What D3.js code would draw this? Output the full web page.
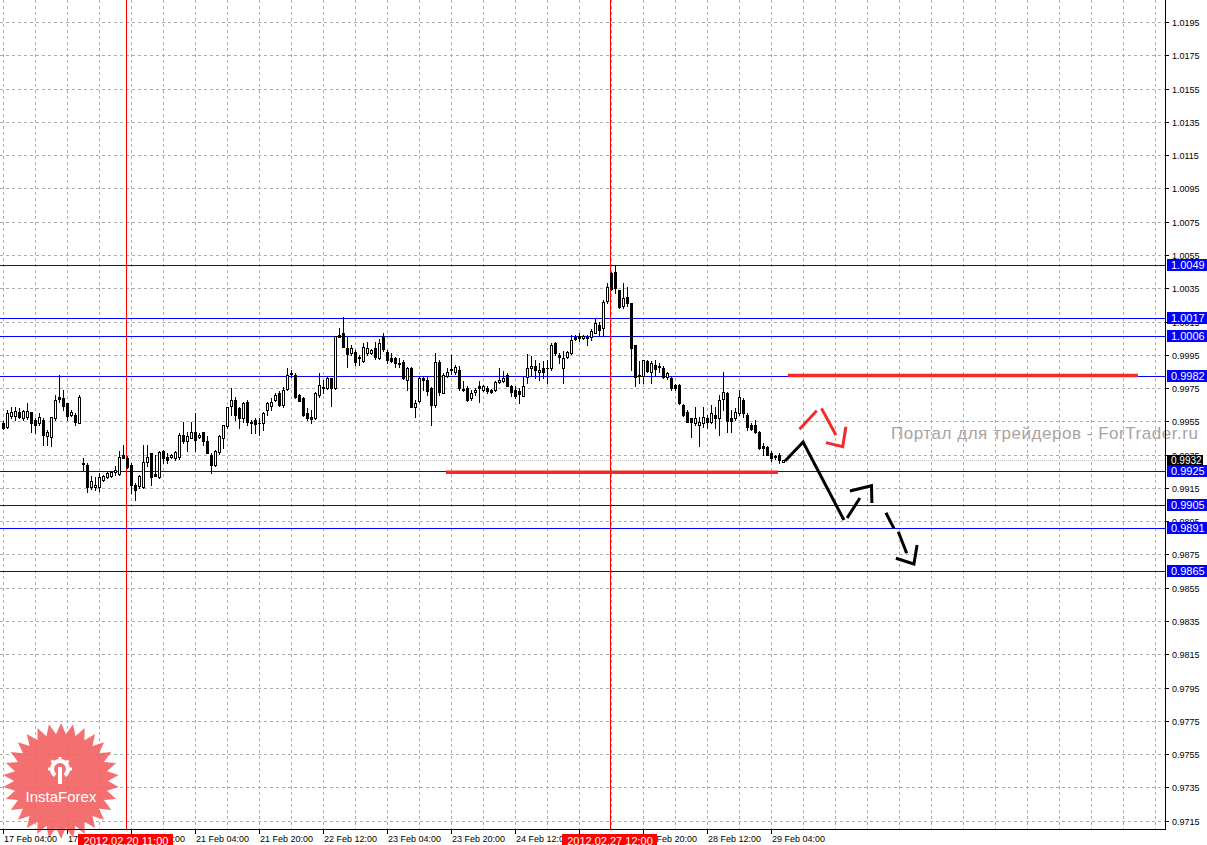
<!DOCTYPE html>
<html>
<head>
<meta charset="utf-8">
<script src="https://cdn.jsdelivr.net/npm/d3@7"></script>
<style>
body{margin:0;background:#fff;}
svg{display:block;font-family:"Liberation Sans",Arial,sans-serif;}
</style>
</head>
<body>
<div id="chart"></div>
<script>
// H1 bars, 17 Feb 04:00 .. 29 Feb 03:00 (weekend skipped)
const open = [
0.99543,0.99515,0.99583,0.99583,0.99607,0.99571,0.99575,0.99607,0.99559,0.99543,
0.99559,0.99463,0.99455,0.99569,0.99695,0.99689,0.99663,0.99589,0.99589,0.99543,
0.99299,0.99289,0.99155,0.99155,0.99155,0.99199,0.99215,0.99223,0.99247,0.99235,
0.99349,0.99329,0.99289,0.99169,0.99159,0.99155,0.99303,0.99359,0.99235,0.99215,
0.99369,0.99335,0.99335,0.99329,0.99335,0.99469,0.99429,0.99449,0.99483,0.99455,
0.99483,0.99429,0.99349,0.99289,0.99363,0.99449,0.99523,0.99643,0.99679,0.99629,
0.99569,0.99669,0.99549,0.99559,0.99543,0.99543,0.99619,0.99643,0.99679,0.99723,
0.99649,0.99743,0.99839,0.99829,0.99709,0.99689,0.99603,0.99579,0.99569,0.99709,
0.99755,0.99749,0.99809,0.99749,1.00069,1.00079,0.99989,0.99959,0.99969,0.99939,
0.99915,0.99963,0.99959,0.99989,0.99929,1.00063,0.99969,0.99929,0.99929,0.99903,
0.99909,0.99799,0.99869,0.99639,0.99675,0.99809,0.99799,0.99749,0.99649,0.99909,
0.99720,0.99820,0.99864,0.99844,0.99860,0.99744,0.99750,0.99690,0.99724,0.99760,
0.99736,0.99750,0.99740,0.99736,0.99784,0.99790,0.99830,0.99760,0.99740,0.99730,
0.99704,0.99816,0.99870,0.99880,0.99844,0.99870,0.99870,0.99870,1.00020,0.99950,
0.99870,0.99936,0.99960,1.00056,1.00064,1.00050,1.00050,1.00056,1.00080,1.00130,
1.00110,1.00276,1.00444,1.00450,1.00340,1.00244,1.00300,1.00260,1.00010,0.99830,
0.99824,0.99910,0.99844,0.99890,0.99880,0.99869,0.99815,0.99809,0.99769,0.99769,
0.99649,0.99609,0.99569,0.99539,0.99529,0.99543,0.99569,0.99549,0.99589,0.99569,
0.99683,0.99723,0.99569,0.99569,0.99599,0.99679,0.99589,0.99529,0.99529,0.99489,
0.99399,0.99395,0.99359,0.99339,0.99349,0.99307];
const high = [
0.99555,0.99619,0.99635,0.99639,0.99630,0.99620,0.99663,0.99607,0.99570,0.99603,
0.99570,0.99500,0.99579,0.99709,0.99829,0.99739,0.99663,0.99620,0.99600,0.99710,
0.99329,0.99300,0.99219,0.99215,0.99239,0.99230,0.99245,0.99250,0.99279,0.99369,
0.99409,0.99340,0.99300,0.99179,0.99230,0.99409,0.99409,0.99360,0.99349,0.99370,
0.99379,0.99359,0.99355,0.99369,0.99479,0.99549,0.99489,0.99549,0.99599,0.99480,
0.99489,0.99459,0.99359,0.99380,0.99470,0.99529,0.99635,0.99749,0.99699,0.99639,
0.99669,0.99679,0.99559,0.99569,0.99569,0.99609,0.99669,0.99689,0.99720,0.99730,
0.99755,0.99869,0.99859,0.99840,0.99715,0.99695,0.99629,0.99619,0.99725,0.99839,
0.99799,0.99815,0.99809,1.00065,1.00109,1.00179,1.00059,1.00009,0.99979,0.99949,
1.00023,1.00029,0.99985,1.00029,1.00043,1.00083,0.99979,0.99959,0.99939,0.99929,
0.99919,0.99879,0.99879,0.99679,0.99819,0.99819,0.99819,0.99759,0.99959,0.99920,
0.99840,0.99870,0.99950,0.99890,0.99880,0.99790,0.99760,0.99740,0.99750,0.99790,
0.99770,0.99760,0.99745,0.99790,0.99870,0.99850,0.99840,0.99770,0.99760,0.99750,
0.99816,0.99956,0.99940,0.99920,0.99900,0.99910,0.99920,1.00020,1.00024,0.99960,
0.99970,0.99970,1.00070,1.00070,1.00080,1.00070,1.00070,1.00104,1.00170,1.00150,
1.00280,1.00380,1.00450,1.00490,1.00340,1.00384,1.00360,1.00260,1.00010,0.99910,
0.99920,0.99920,0.99910,0.99920,0.99900,0.99880,0.99849,0.99815,0.99775,0.99775,
0.99655,0.99619,0.99569,0.99639,0.99579,0.99639,0.99589,0.99649,0.99639,0.99709,
0.99849,0.99729,0.99619,0.99629,0.99739,0.99689,0.99599,0.99539,0.99559,0.99495,
0.99419,0.99399,0.99369,0.99349,0.99359,0.99319];
const low = [
0.99505,0.99509,0.99569,0.99559,0.99570,0.99560,0.99565,0.99483,0.99479,0.99529,
0.99409,0.99409,0.99403,0.99559,0.99669,0.99619,0.99559,0.99580,0.99529,0.99540,
0.99259,0.99123,0.99143,0.99139,0.99129,0.99190,0.99210,0.99215,0.99229,0.99229,
0.99329,0.99270,0.99119,0.99079,0.99150,0.99149,0.99279,0.99169,0.99219,0.99210,
0.99299,0.99299,0.99330,0.99319,0.99323,0.99419,0.99369,0.99449,0.99369,0.99450,
0.99409,0.99359,0.99239,0.99280,0.99355,0.99389,0.99509,0.99589,0.99559,0.99509,
0.99549,0.99529,0.99479,0.99479,0.99469,0.99499,0.99589,0.99619,0.99670,0.99640,
0.99639,0.99739,0.99815,0.99690,0.99670,0.99580,0.99559,0.99539,0.99565,0.99699,
0.99719,0.99745,0.99643,0.99745,1.00055,0.99995,0.99879,0.99949,0.99889,0.99889,
0.99909,0.99949,0.99955,0.99923,0.99923,0.99975,0.99899,0.99909,0.99879,0.99879,
0.99805,0.99739,0.99635,0.99579,0.99669,0.99739,0.99709,0.99529,0.99639,0.99710,
0.99720,0.99816,0.99836,0.99836,0.99740,0.99730,0.99670,0.99680,0.99710,0.99664,
0.99730,0.99720,0.99720,0.99730,0.99780,0.99784,0.99760,0.99700,0.99690,0.99660,
0.99700,0.99780,0.99820,0.99810,0.99800,0.99810,0.99780,0.99860,0.99950,0.99900,
0.99780,0.99930,0.99956,1.00040,1.00030,1.00045,1.00010,1.00040,1.00080,1.00064,
1.00064,1.00264,1.00340,1.00320,1.00230,1.00230,1.00244,0.99860,0.99764,0.99780,
0.99780,0.99844,0.99780,0.99820,0.99844,0.99810,0.99803,0.99740,0.99740,0.99655,
0.99585,0.99545,0.99455,0.99529,0.99403,0.99519,0.99509,0.99539,0.99509,0.99469,
0.99619,0.99489,0.99489,0.99559,0.99589,0.99579,0.99499,0.99499,0.99479,0.99385,
0.99349,0.99349,0.99309,0.99323,0.99299,0.99305];
const close = [
0.99509,0.99603,0.99607,0.99611,0.99579,0.99611,0.99615,0.99539,0.99529,0.99575,
0.99467,0.99483,0.99575,0.99679,0.99683,0.99643,0.99585,0.99609,0.99549,0.99699,
0.99295,0.99155,0.99189,0.99169,0.99215,0.99223,0.99239,0.99243,0.99255,0.99335,
0.99331,0.99275,0.99169,0.99135,0.99219,0.99303,0.99335,0.99215,0.99223,0.99363,
0.99329,0.99319,0.99349,0.99363,0.99469,0.99429,0.99459,0.99483,0.99439,0.99469,
0.99429,0.99359,0.99289,0.99369,0.99459,0.99529,0.99635,0.99679,0.99589,0.99569,
0.99659,0.99549,0.99543,0.99535,0.99539,0.99603,0.99659,0.99669,0.99709,0.99649,
0.99739,0.99829,0.99835,0.99695,0.99675,0.99589,0.99569,0.99563,0.99719,0.99769,
0.99749,0.99809,0.99749,1.00063,1.00059,0.99999,0.99955,0.99989,0.99909,0.99929,
0.99995,0.99989,0.99979,0.99935,1.00019,0.99983,0.99919,0.99915,0.99903,0.99895,
0.99809,0.99869,0.99639,0.99663,0.99809,0.99799,0.99735,0.99649,0.99909,0.99725,
0.99830,0.99844,0.99856,0.99876,0.99750,0.99740,0.99676,0.99720,0.99740,0.99750,
0.99760,0.99730,0.99724,0.99784,0.99800,0.99810,0.99760,0.99724,0.99700,0.99716,
0.99760,0.99870,0.99880,0.99856,0.99860,0.99844,0.99868,1.00010,0.99960,0.99936,
0.99930,0.99964,1.00040,1.00044,1.00050,1.00064,1.00056,1.00090,1.00140,1.00100,
1.00270,1.00360,1.00344,1.00350,1.00236,1.00290,1.00264,0.99990,0.99816,0.99824,
0.99920,0.99850,0.99900,0.99864,0.99876,0.99819,0.99839,0.99749,0.99749,0.99659,
0.99589,0.99549,0.99549,0.99569,0.99549,0.99579,0.99549,0.99599,0.99569,0.99679,
0.99729,0.99555,0.99555,0.99609,0.99695,0.99599,0.99515,0.99503,0.99489,0.99389,
0.99389,0.99349,0.99329,0.99337,0.99315,0.99319];

const priceTicks = [0.9715,0.9735,0.9755,0.9775,0.9795,0.9815,0.9835,0.9855,0.9875,0.9895,
  0.9915,0.9935,0.9955,0.9975,0.9995,1.0015,1.0035,1.0055,1.0075,1.0095,1.0115,1.0135,
  1.0155,1.0175,1.0195];
// one label every 16 bars
const timeLabels = ["17 Feb 04:00","17 Feb 20:00","20 Feb 12:00","21 Feb 04:00","21 Feb 20:00",
  "22 Feb 12:00","23 Feb 04:00","23 Feb 20:00","24 Feb 12:00","27 Feb 04:00","27 Feb 20:00",
  "28 Feb 12:00","29 Feb 04:00"];
const levels = [1.0049, 1.0017, 1.0006, 0.9982, 0.9925, 0.9905, 0.9891, 0.9865];
const bidPrice = 0.9932;
// vertical lines : bar index and label
const vLines = [{i: 31, label: "2012.02.20 11:00"}, {i: 152, label: "2012.02.27 12:00"}];
// drawn objects, in (bar index, price)
const redLevels = [[[110.8, 0.99244], [193.8, 0.99244]], [[196.3, 0.99826], [283.8, 0.99826]]];
const blackPath = [[195.6, 0.99312], [200.1, 0.99426], [210.3, 0.98957]];
const blackShaft = [[211.1, 0.98969], [214.3, 0.99089]];
const blackHead = [[211.8, 0.99131], [217.2, 0.99163], [217.3, 0.99059]];
const dashSegs = [[[220.8, 0.99001], [222.8, 0.98907]], [[223.9, 0.98887], [226.0, 0.98757]]];
const dashHead = [[223.3, 0.98727], [227.8, 0.98693], [228.6, 0.98807]];
const redSegs = [[[199.2, 0.99502], [203.5, 0.99614]], [[204.7, 0.99628], [208.3, 0.99468]]];
const redHead = [[205.8, 0.99422], [210.0, 0.99398], [210.8, 0.99518]];

const W = 1207, H = 845, plotRight = 1165, plotBottom = 829;
const gridColor = '#a6b4a6';

const x = d3.scaleLinear().domain([0, 1]).range([2.7, 6.7]);
const y = d3.scaleLinear().domain([0.9715, 1.0195]).range([820.7, 22]);
const px = v => Math.round(v) + 0.5;
const line = d3.line().x(d => x(d[0])).y(d => y(d[1]));

const svg = d3.select('#chart').append('svg').attr('width', W).attr('height', H);

svg.append('defs').append('clipPath').attr('id', 'plotclip')
  .append('rect').attr('x', 0).attr('y', 0).attr('width', plotRight).attr('height', plotBottom);

//grid
const grid = svg.append('g').attr('stroke', gridColor).attr('stroke-dasharray', '3,3')
  .attr('shape-rendering', 'crispEdges');
priceTicks.forEach(p => {
  grid.append('line').attr('x1', 0).attr('x2', plotRight).attr('y1', px(y(p))).attr('y2', px(y(p)));
});
d3.range(0, 300, 8).forEach(i => {
  const xx = px(x(i));
  if (xx < plotRight) grid.append('line').attr('x1', xx).attr('x2', xx).attr('y1', 0).attr('y2', plotBottom);
});

const plot = svg.append('g').attr('clip-path', 'url(#plotclip)');

//bid line
plot.append('line').attr('x1', 0).attr('x2', plotRight).attr('y1', px(y(bidPrice))).attr('y2', px(y(bidPrice)))
  .attr('stroke', '#c4bcc4').attr('stroke-dasharray', '1,1').attr('shape-rendering', 'crispEdges');

//levels
levels.forEach(l => {
  plot.append('line').attr('x1', 0).attr('x2', plotRight).attr('y1', px(y(l))).attr('y2', px(y(l)))
    .attr('stroke', '#0000ff').attr('shape-rendering', 'crispEdges');
});

//vertical red lines
vLines.forEach(v => {
  const xx = Math.floor(x(v.i)) + 0.5;
  plot.append('line').attr('x1', xx).attr('x2', xx).attr('y1', 0).attr('y2', plotBottom)
    .attr('stroke', '#ff0000').attr('shape-rendering', 'crispEdges');
});

//candles
const cg = plot.append('g').attr('shape-rendering', 'crispEdges');
open.forEach((o, i) => {
  const c = close[i], cx = Math.round(x(i));
  cg.append('line').attr('x1', cx + 0.5).attr('x2', cx + 0.5)
    .attr('y1', Math.round(y(high[i]))).attr('y2', Math.round(y(low[i])) + 1).attr('stroke', '#000');
  const top = Math.round(y(Math.max(o, c))), bot = Math.round(y(Math.min(o, c)));
  if (bot - top < 1) {
    cg.append('line').attr('x1', cx - 1).attr('x2', cx + 2).attr('y1', top + 0.5).attr('y2', top + 0.5)
      .attr('stroke', '#000');
  } else {
    cg.append('rect').attr('x', cx - 0.5).attr('y', top + 0.5).attr('width', 2).attr('height', bot - top)
      .attr('fill', c >= o ? '#fff' : '#000').attr('stroke', '#000');
  }
});

//drawn objects
redLevels.forEach(r => {
  plot.append('path').attr('d', line(r)).attr('stroke', '#f22a2a').attr('stroke-width', 3.5).attr('fill', 'none');
});
const draw = (pts, col) => plot.append('path').attr('d', line(pts)).attr('fill', 'none')
  .attr('stroke', col).attr('stroke-width', 3).attr('stroke-linejoin', 'miter');
draw(blackPath, '#000');
draw(blackShaft, '#000');
draw(blackHead, '#000');
dashSegs.forEach(s => draw(s, '#000'));
draw(dashHead, '#000');
redSegs.forEach(s => draw(s, '#f22a2a'));
draw(redHead, '#f22a2a');

//watermark
svg.append('text').attr('x', 891).attr('y', 439).attr('font-size', 17).attr('fill', '#aaa2a2')
  .attr('textLength', 307).attr('lengthAdjust', 'spacing')
  .text('Портал для трейдеров - ForTrader.ru');

//instaforex logo
const logo = svg.append('g').attr('transform', 'translate(61,781)');
const star = d3.range(60).map(j => {
  const a = j * Math.PI / 30, r = j % 2 ? 47 : 58;
  return [r * Math.sin(a), -r * Math.cos(a)];
});
logo.append('path').attr('d', 'M' + star.join('L') + 'Z').attr('fill', '#f25c5c').attr('opacity', 0.88);
logo.append('path').attr('d', d3.arc().innerRadius(6).outerRadius(10).startAngle(-2.5).endAngle(2.5)())
  .attr('transform', 'translate(-1,-12)').attr('fill', '#fff');
d3.range(-2, 3).forEach(j => {
  logo.append('rect').attr('x', -2.5).attr('y', -24).attr('width', 3).attr('height', 4).attr('fill', '#fff')
    .attr('transform', 'rotate(' + (j * 45) + ',-1,-12)');
});
logo.append('rect').attr('x', -3).attr('y', -14).attr('width', 4).attr('height', 17).attr('fill', '#fff');
logo.append('text').attr('x', 0).attr('y', 21).attr('text-anchor', 'middle').attr('font-size', 15)
  .attr('fill', '#fff').text('InstaForex');

//axes
svg.append('line').attr('x1', plotRight + 0.5).attr('x2', plotRight + 0.5).attr('y1', 0).attr('y2', plotBottom + 1)
  .attr('stroke', '#000').attr('shape-rendering', 'crispEdges');
svg.append('line').attr('x1', 0).attr('x2', plotRight + 1).attr('y1', plotBottom + 0.5).attr('y2', plotBottom + 0.5)
  .attr('stroke', '#000').attr('shape-rendering', 'crispEdges');

priceTicks.forEach(p => {
  const yy = px(y(p));
  svg.append('line').attr('x1', plotRight).attr('x2', plotRight + 4).attr('y1', yy).attr('y2', yy)
    .attr('stroke', '#000').attr('shape-rendering', 'crispEdges');
  svg.append('text').attr('x', 1172).attr('y', yy + 3).attr('font-size', 9).attr('fill', '#000').text(p.toFixed(4));
});
timeLabels.forEach((t, j) => {
  const xx = px(x(j * 16));
  svg.append('line').attr('x1', xx).attr('x2', xx).attr('y1', plotBottom).attr('y2', plotBottom + 5)
    .attr('stroke', '#000').attr('shape-rendering', 'crispEdges');
  svg.append('text').attr('x', xx + 0.5).attr('y', 842).attr('font-size', 9).attr('fill', '#000').text(t);
});

//price boxes
levels.forEach(l => {
  const yy = Math.round(y(l));
  svg.append('rect').attr('x', 1167).attr('y', yy - 6).attr('width', 40).attr('height', 12).attr('fill', '#0000ff');
  svg.append('text').attr('x', 1171).attr('y', yy + 4).attr('font-size', 11).attr('fill', '#fff').text(l.toFixed(4));
});
const by = Math.round(y(bidPrice));
svg.append('rect').attr('x', 1167).attr('y', by - 5).attr('width', 36).attr('height', 10).attr('fill', '#000');
svg.append('text').attr('x', 1171).attr('y', by + 4).attr('font-size', 10).attr('fill', '#fff').text(bidPrice.toFixed(4));

//time boxes
vLines.forEach(v => {
  const xx = Math.floor(x(v.i));
  svg.append('rect').attr('x', xx - 48).attr('y', 834).attr('width', 95).attr('height', 12).attr('fill', '#ff0000');
  svg.append('text').attr('x', xx).attr('y', 844.5).attr('text-anchor', 'middle').attr('font-size', 11)
    .attr('fill', '#fff').text(v.label);
});
</script>
</body>
</html>
